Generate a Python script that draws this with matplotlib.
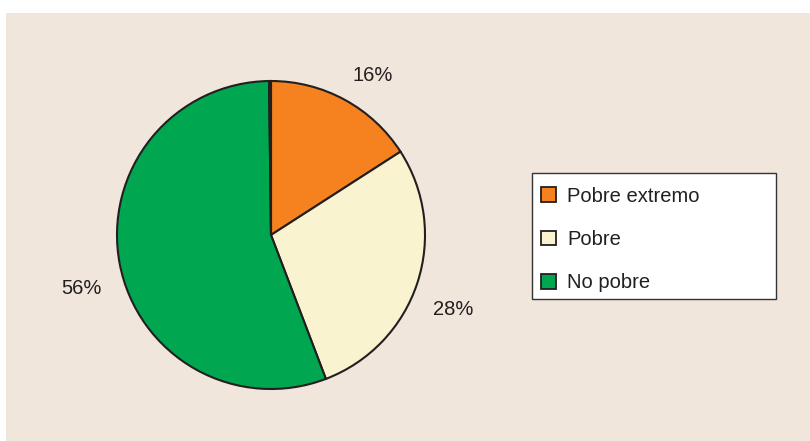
import numpy as np
import matplotlib.pyplot as plt
from matplotlib.patches import Patch, Rectangle

plt.rcParams['font.family'] = ['Liberation Sans', 'DejaVu Sans']

# data
categorias = ["Pobre extremo", "Pobre", "No pobre", ""]
valores = [15.9, 28.3, 55.6, 0.2]
colores = ["#f5821f", "#faf3d0", "#00a650", "#f0e6dc"]

W, H = 810, 441
fig = plt.figure(figsize=(W / 100, H / 100), dpi=100, facecolor="white")

# beige panel
bg = fig.add_axes([6 / W, 0, 1 - 6 / W, 1 - 13 / H])
bg.set_facecolor("#f0e6dc")
bg.set_xticks([])
bg.set_yticks([])
for s in bg.spines.values():
    s.set_visible(False)

# pie axes: center (271, 235) px, radius 154 px
cx, cy, r = 271, H - 235, 154
ax = fig.add_axes([(cx - r) / W, (cy - r) / H, 2 * r / W, 2 * r / H])
ax.set_facecolor("none")


def pct(p):
    return "" if p < 1 else "%.0f%%" % p


wedges, texts, autotexts = ax.pie(
    valores, colors=colores, startangle=90, counterclock=False,
    autopct=pct, pctdistance=1.28,
    wedgeprops=dict(edgecolor="#231f20", linewidth=1.5),
    textprops=dict(fontsize=14.5, color="#231f20"))
# small angular nudges of the labels (degrees)
nudges = [-4, -4, 5, 0]
for t, d in zip(autotexts, nudges):
    a = np.deg2rad(d)
    x, y = t.get_position()
    t.set_position((x * np.cos(a) - y * np.sin(a), x * np.sin(a) + y * np.cos(a)))
autotexts[0].set_position(np.array(autotexts[0].get_position()) * 0.96)
ax.set_xlim(-1, 1)
ax.set_ylim(-1, 1)
ax.set_aspect("equal")
ax.axis("off")

# legend box
fig.patches.append(Rectangle((532 / W, 1 - 299 / H), 244 / W, 126 / H,
                             transform=fig.transFigure, facecolor="white",
                             edgecolor="#333333", linewidth=1.0, zorder=1))
handles = [Patch(facecolor=colores[i], edgecolor="#231f20", linewidth=1.3, label=categorias[i])
           for i in range(3)]
leg = fig.legend(handles=handles, loc="center left",
                 bbox_to_anchor=(541 / W, 1 - 239.5 / H), fontsize=14.5,
                 frameon=False, handlelength=0.75, handleheight=0.75,
                 handletextpad=0.55, labelspacing=1.2, borderpad=0.0,
                 borderaxespad=0.0)
leg.set_zorder(2)
for t in leg.get_texts():
    t.set_color("#231f20")

fig.savefig("out.png", dpi=100, facecolor="white")
